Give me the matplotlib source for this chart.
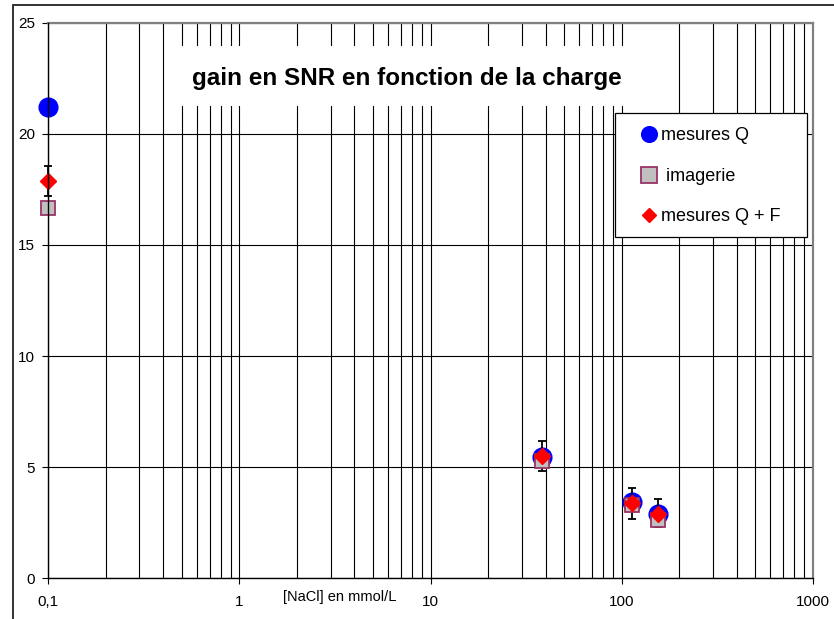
import matplotlib
matplotlib.use("Agg")
import matplotlib.pyplot as plt
from matplotlib.patches import Rectangle
from matplotlib.ticker import LogLocator, FixedLocator, NullFormatter

plt.rcParams['font.family'] = ['Liberation Sans', 'DejaVu Sans']

# NaCl concentration (mmol/L) and SNR gain per method
conc = [0.1, 38.5, 113, 155]
snr_q = [21.2, 5.46, 3.43, 2.90]
snr_img = [16.64, 5.27, 3.29, 2.64]
snr_qf = [17.88, 5.50, 3.37, 2.88]
err_qf_low = [0.66, 0.67, 0.68, 0.55]
err_qf_high = [0.66, 0.67, 0.68, 0.70]

x_ticks = [0.1, 1, 10, 100, 1000]
x_labels = ["0,1", "1", "10", "100", "1000"]
y_ticks = [0, 5, 10, 15, 20, 25]

W, H = 834, 619
fig = plt.figure(figsize=(W / 100, H / 100), dpi=100)
ax = fig.add_axes([48.3 / W, 1 - 578.3 / H, (812.7 - 48.3) / W, (578.3 - 22.7) / H])

ax.set_xscale('log')
ax.set_xlim(0.1, 1000)
ax.set_ylim(0, 25)

ax.xaxis.set_major_locator(FixedLocator(x_ticks))
ax.set_xticklabels(x_labels)
ax.xaxis.set_minor_locator(LogLocator(base=10, subs=range(2, 10)))
ax.xaxis.set_minor_formatter(NullFormatter())
ax.set_yticks(y_ticks)
ax.set_yticklabels([str(v) for v in y_ticks])

ax.tick_params(axis='x', which='major', direction='out', length=4, width=0.8,
               pad=8, labelsize=11, color='black')
ax.tick_params(axis='x', which='minor', length=0)
ax.tick_params(axis='y', which='major', direction='out', length=4, width=0.8,
               pad=5.5, labelsize=11, color='black')

ax.grid(True, which='both', axis='x', color='black', linewidth=0.8)
ax.grid(True, which='major', axis='y', color='black', linewidth=0.8)

for side in ('left', 'bottom'):
    ax.spines[side].set_color('black')
    ax.spines[side].set_linewidth(1.0)
    ax.spines[side].set_zorder(6)
for side in ('top', 'right'):
    ax.spines[side].set_color('#808080')
    ax.spines[side].set_linewidth(1.6)

# series
ax.plot(conc, snr_q, linestyle='none', marker='o', markersize=13.5,
        markerfacecolor='#0000FF', markeredgecolor='#0000FF',
        label='mesures Q', zorder=4, clip_on=False)
ax.errorbar(conc, snr_qf, yerr=[err_qf_low, err_qf_high], fmt='none', ecolor='black',
            elinewidth=1.3, capsize=3, capthick=1.3, zorder=4.5, clip_on=False)
ax.plot(conc, snr_img, linestyle='none', marker='s', markersize=10,
        markerfacecolor='#C0C0C0', markeredgecolor='#993366', markeredgewidth=1.3,
        label=' imagerie', zorder=5, clip_on=False)
ax.plot(conc, snr_qf, linestyle='none', marker='D', markersize=8,
        markerfacecolor='#FF0000', markeredgecolor='#FF0000',
        label='mesures Q + F', zorder=6, clip_on=False)

# title panel
ax.add_patch(Rectangle((176 / W, 1 - 106 / H), (640 - 176) / W, 60 / H,
                       transform=fig.transFigure, facecolor='white',
                       edgecolor='none', zorder=2.5))
fig.text(407 / W, 1 - 78 / H, "gain en SNR en fonction de la charge",
         fontsize=17.5, fontweight='bold', ha='center', va='center', zorder=7)

fig.text(339.5 / W, 1 - 597 / H, "[NaCl] en mmol/L", fontsize=10.5,
         ha='center', va='center')

# legend panel
ax.add_patch(Rectangle((615 / W, 1 - 237 / H), (807 - 615) / W, (237 - 113) / H,
                       transform=fig.transFigure, facecolor='white',
                       edgecolor='black', linewidth=0.9, zorder=7))
leg = ax.legend(loc='upper left', bbox_to_anchor=(640 / W, 1 - 127.5 / H),
                bbox_transform=fig.transFigure, frameon=False, borderpad=0,
                borderaxespad=0, fontsize=13, labelspacing=1.3,
                handlelength=1.0, handletextpad=0.15)
leg.set_zorder(8)
for handle, size in zip(leg.legend_handles, [11.3, 11.5, 7.2]):
    handle.set_markersize(size)

# outer frame
fig.add_artist(Rectangle((12.7 / W, -0.5), 2.0, 1.5 - 5.5 / H,
                         transform=fig.transFigure, facecolor='none',
                         edgecolor='#222222', linewidth=1.3))

fig.savefig('out.png', dpi=100)
